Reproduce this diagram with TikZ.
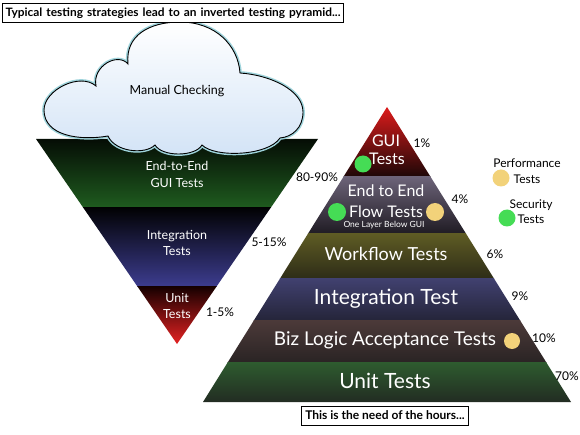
\documentclass[tikz,border=0pt]{standalone}
\usepackage{fontspec}
\setmainfont{Lato}
\definecolor{igtop}{HTML}{050D05}
\definecolor{igbot}{HTML}{1F5C1F}
\definecolor{ibtop}{HTML}{020204}
\definecolor{ibbot}{HTML}{3C3C8E}
\definecolor{irtop}{HTML}{140000}
\definecolor{irbot}{HTML}{E82222}
\definecolor{cloudblue}{HTML}{D2E3F6}
\definecolor{glow}{HTML}{9FD4DC}
\definecolor{guitop}{HTML}{E21C1C}
\definecolor{guibot}{HTML}{1C0707}
\definecolor{eetop}{HTML}{6C6378}
\definecolor{eebot}{HTML}{1F1B23}
\definecolor{wftop}{HTML}{5E5B24}
\definecolor{wfbot}{HTML}{2E2D17}
\definecolor{ittop}{HTML}{414170}
\definecolor{itbot}{HTML}{25253A}
\definecolor{bztop}{HTML}{4C3A39}
\definecolor{bzbot}{HTML}{2A2424}
\definecolor{uttop}{HTML}{2E5C2F}
\definecolor{utbot}{HTML}{222B22}
\definecolor{dotgreen}{HTML}{45DC55}
\definecolor{dotyellow}{HTML}{F2D27A}
\tikzset{
  wlbl/.style={text=white, inner sep=0pt, align=center},
  blbl/.style={text=black, inner sep=0pt, align=center, font=\fontsize{12}{14}\selectfont},
  boxlbl/.style={draw=black, line width=1pt, fill=white, inner ysep=0pt, minimum height=19pt},
  dotg/.style={circle, fill=dotgreen, inner sep=0pt, minimum size=17pt},
  doty/.style={circle, fill=dotyellow, inner sep=0pt, minimum size=17pt},
}
\begin{document}
\begin{tikzpicture}[x=1pt,y=1pt]
\useasboundingbox (0,0) rectangle (580,-435);
\fill[white] (0,0) rectangle (580,-435);

% ---------- inverted pyramid ----------
\begin{scope}
\clip (36,-139) -- (318,-139) -- (177,-344) -- cycle;
\shade[top color=igtop, bottom color=igbot] (30,-139) rectangle (325,-208);
\shade[top color=ibtop, bottom color=ibbot] (30,-208) rectangle (325,-286);
\shade[top color=irtop, bottom color=irbot] (30,-286) rectangle (325,-345);
\end{scope}

% ---------- cloud ----------
\shadedraw[top color=white, bottom color=cloudblue, draw=black, line width=0.9pt,
  preaction={draw=glow, line width=3.8pt}]
  (108,-136) .. controls (80,-141) and (44,-136) .. (44,-110)
  .. controls (44,-90) and (80,-72) .. (96,-86)
  .. controls (92,-66) and (118,-52) .. (128,-64)
  .. controls (125,-35) and (150,-22) .. (180,-22)
  .. controls (215,-22) and (238,-45) .. (240,-73)
  .. controls (270,-75) and (303,-90) .. (303,-112)
  .. controls (303,-128) and (292,-137) .. (280,-138)
  .. controls (268,-156) and (215,-158) .. (202,-145)
  .. controls (195,-157) and (162,-157) .. (155,-145)
  .. controls (145,-155) and (115,-152) .. (108,-136) -- cycle;

\node[blbl, font=\fontsize{12.5}{14}\selectfont] (manual) at (177,-91) {Manual Checking};
\node[wlbl, font=\fontsize{12.5}{17}\selectfont] (e2egui) at (177,-174) {End-to-End\\GUI Tests};
\node[wlbl, font=\fontsize{12.5}{16}\selectfont] (integ) at (177,-243) {Integration\\Tests};
\node[wlbl, font=\fontsize{12.5}{16}\selectfont] (unit) at (177,-306) {Unit\\Tests};
\node[blbl] (p8090) at (317,-177) {80-90\%};
\node[blbl] (p515) at (269,-242) {5-15\%};
\node[blbl] (p15) at (220,-312) {1-5\%};

% ---------- pyramid ----------
\begin{scope}
\clip (387,-107) -- (571,-402) -- (203,-402) -- cycle;
\shade[top color=guitop, bottom color=guibot] (200,-105) rectangle (575,-177);
\shade[top color=eetop, bottom color=eebot] (200,-177) rectangle (575,-234);
\shade[top color=wftop, bottom color=wfbot] (200,-234) rectangle (575,-278);
\shade[top color=ittop, bottom color=itbot] (200,-278) rectangle (575,-320);
\shade[top color=bztop, bottom color=bzbot] (200,-320) rectangle (575,-362);
\shade[top color=uttop, bottom color=utbot] (200,-362) rectangle (575,-403);
\end{scope}

\node[dotg] (dgui) at (363,-164) {};
\node[dotg, minimum size=18pt] (de2e) at (337,-212) {};
\node[doty, minimum size=18pt] (ye2e) at (435,-212) {};
\node[doty, minimum size=16pt] (ybiz) at (512,-341) {};

\node[wlbl, font=\fontsize{16}{18}\selectfont] (gui) at (386,-141) {GUI};
\node[wlbl, font=\fontsize{16}{18}\selectfont] (guit) at (387,-159) {Tests};
\node[wlbl, font=\fontsize{16}{18}\selectfont] (ete) at (386,-191) {End to End};
\node[wlbl, font=\fontsize{16}{18}\selectfont] (flow) at (386,-212) {Flow Tests};
\node[wlbl, font=\fontsize{8.5}{10}\selectfont] (layer) at (384,-225) {One Layer Below GUI};
\node[wlbl, font=\fontsize{18}{22}\selectfont] (wf) at (386,-254) {Workflow Tests};
\node[wlbl, font=\fontsize{21}{24}\selectfont] (it) at (386,-299) {Integration Test};
\node[wlbl, font=\fontsize{19}{22}\selectfont] (bz) at (385,-340) {Biz Logic Acceptance Tests};
\node[wlbl, font=\fontsize{21}{24}\selectfont] (ut) at (385,-381) {Unit Tests};

\node[blbl] (p1) at (422,-143) {1\%};
\node[blbl] (p4) at (460,-199) {4\%};
\node[blbl] (p6) at (495,-254) {6\%};
\node[blbl] (p9) at (520,-296) {9\%};
\node[blbl] (p10) at (544,-338) {10\%};
\node[blbl] (p70) at (567,-376) {70\%};

% ---------- legend ----------
\node[doty] (lperf) at (501,-178) {};
\node[dotg] (lsec) at (507,-218) {};
\node[blbl] (perf) at (527,-163) {Performance};
\node[blbl] (perft) at (527,-179) {Tests};
\node[blbl] (sec) at (531,-205) {Security};
\node[blbl] (sect) at (531,-219) {Tests};

% ---------- boxes ----------
\node[boxlbl, anchor=west, minimum width=341pt, inner xsep=3pt, text width=335pt, font=\bfseries\fontsize{12}{14}\selectfont] (title) at (2,-13.5)
  {\resizebox{335pt}{8.6pt}{Typical testing strategies lead to an inverted testing pyramid...}};
\node[boxlbl, inner xsep=4pt, font=\bfseries\fontsize{12}{14}\selectfont] (need) at (385,-415.5)
  {This is the need of the hours...};
\end{tikzpicture}
\end{document}
